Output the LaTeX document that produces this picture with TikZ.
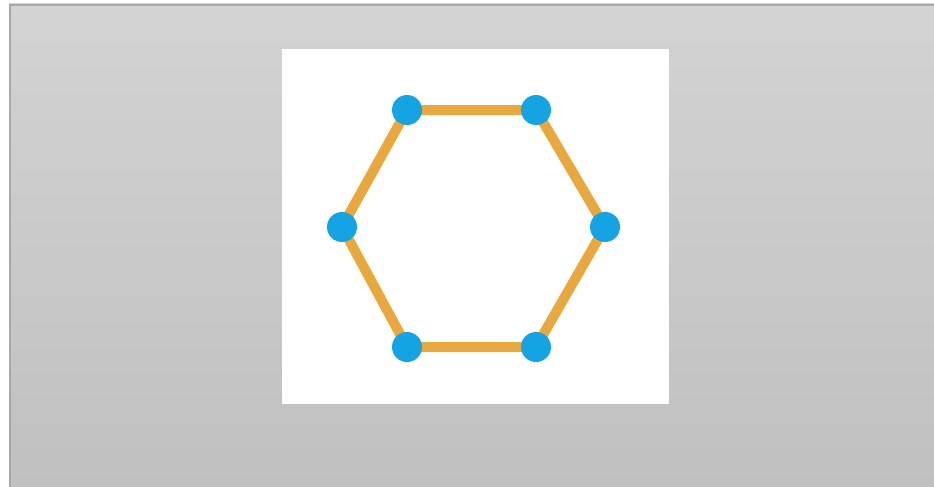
\documentclass[tikz,border=0pt]{standalone}
\definecolor{edgeorange}{HTML}{E9A83E}
\definecolor{dotblue}{HTML}{14A3E3}
\definecolor{bgtop}{HTML}{D3D3D3}
\definecolor{bgbot}{HTML}{C0C0C0}
\definecolor{frameline}{HTML}{A8A8A8}
\pgfdeclarelayer{back}
\pgfdeclarelayer{edges}
\pgfsetlayers{back,edges,main}
\tikzset{
  vtx/.style={circle, fill=dotblue, inner sep=0pt, minimum size=30pt},
  hexedge/.style={draw=edgeorange, line width=10pt},
}
\begin{document}
\begin{tikzpicture}[x=1pt,y=-1pt]
\useasboundingbox (0,0) rectangle (934,487);
\begin{pgfonlayer}{back}
\fill[white] (0,0) rectangle (934,487);
\shade[top color=bgtop, bottom color=bgbot] (9,4) rectangle (934,487);
\draw[frameline, line width=1.8pt] (10,487) -- (10,5) -- (934,5);
\fill[white] (282,49) rectangle (669,404);
\end{pgfonlayer}
\node[vtx] (a) at (407,110) {};
\node[vtx] (b) at (536,110) {};
\node[vtx] (c) at (605,227) {};
\node[vtx] (d) at (536,347) {};
\node[vtx] (e) at (407,347) {};
\node[vtx] (f) at (342,227) {};
\begin{pgfonlayer}{edges}
\draw[hexedge] (a.center) -- (b.center) -- (c.center) -- (d.center) -- (e.center) -- (f.center) -- cycle;
\end{pgfonlayer}
\end{tikzpicture}
\end{document}
